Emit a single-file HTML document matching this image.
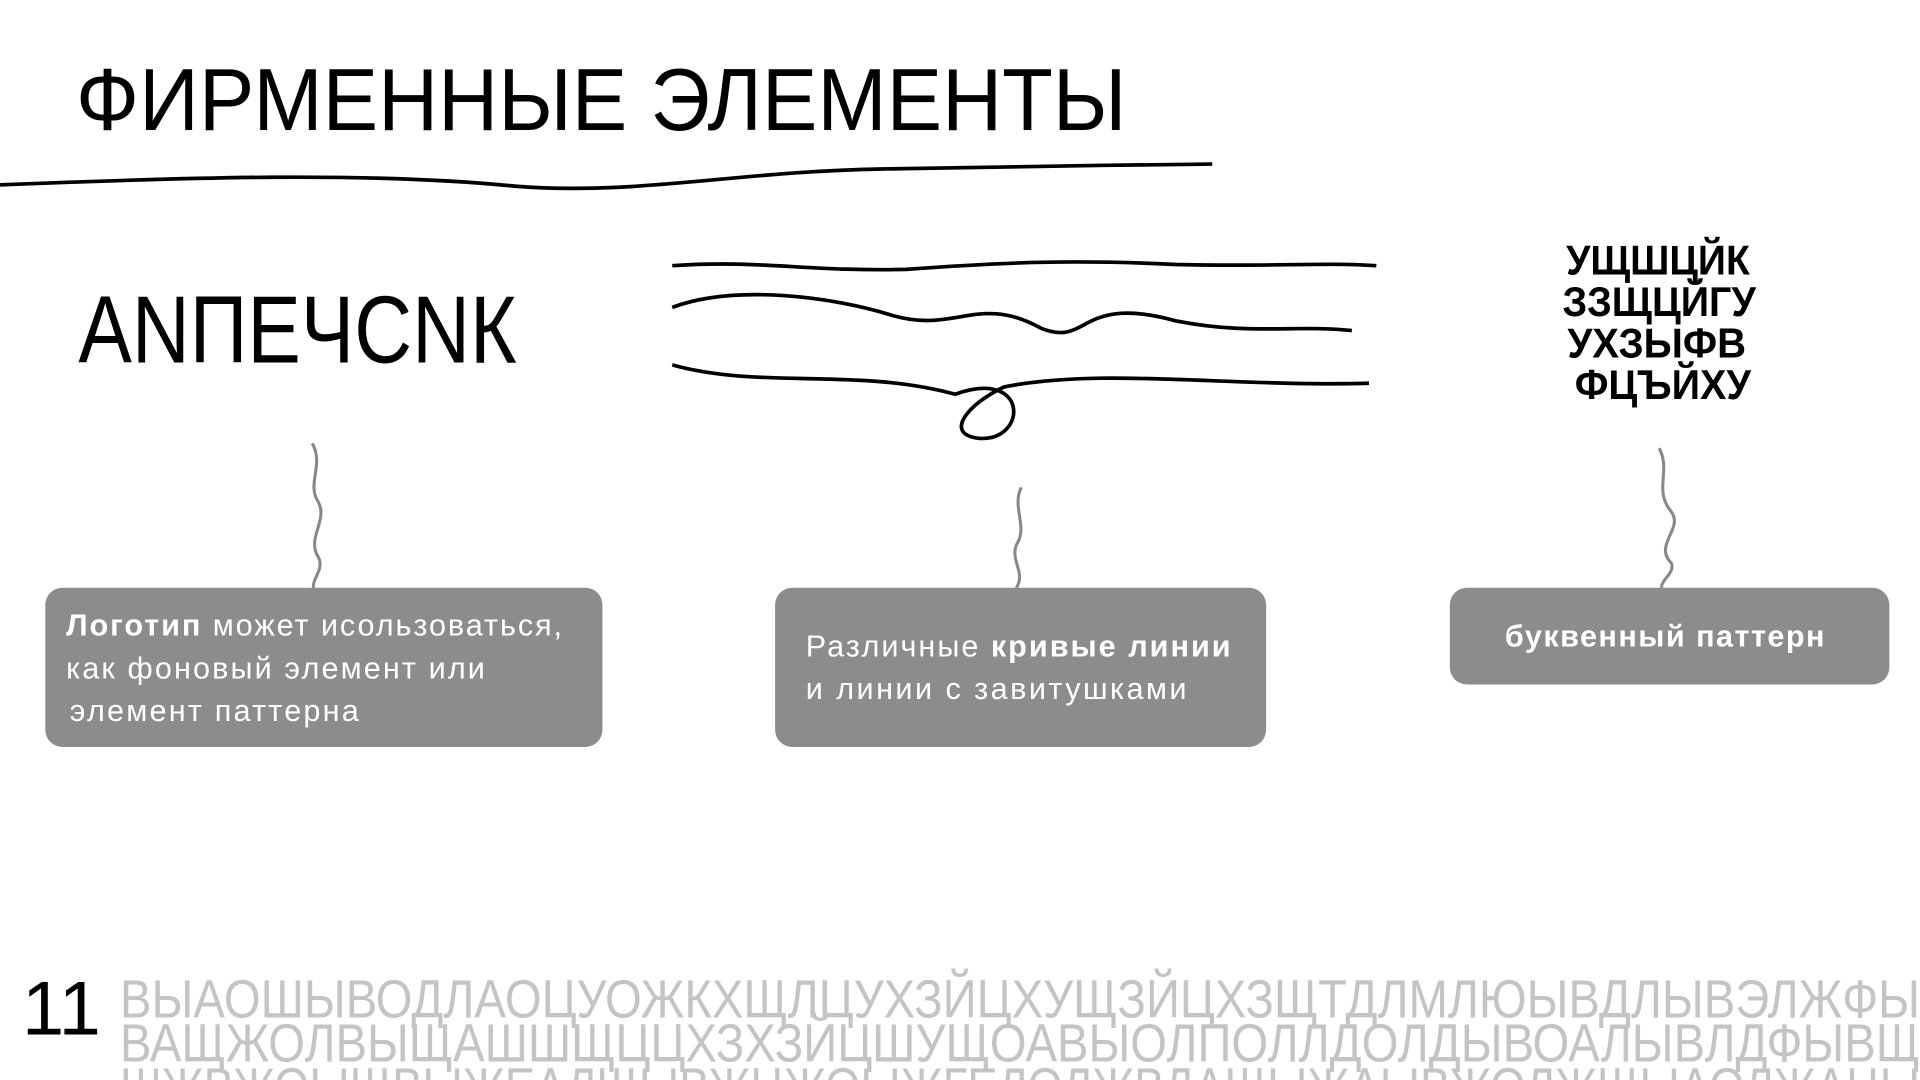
<!DOCTYPE html>
<html><head><meta charset="utf-8"><style>
html,body{margin:0;padding:0;background:#fff;overflow:hidden}
svg{display:block}
</style></head><body>
<svg width="1920" height="1080" viewBox="0 0 1568 882" xmlns="http://www.w3.org/2000/svg">
<rect width="1568" height="882" fill="#fff"/>
<text x="62" y="106" font-family="Liberation Sans Narrow, Liberation Sans, sans-serif" font-size="72" textLength="858" lengthAdjust="spacingAndGlyphs" fill="#000">ФИРМЕННЫЕ ЭЛЕМЕНТЫ</text>
<path d="M0 151 C150 145 300 140 420 152 C520 160 600 140 720 138 C820 136 900 135 990 134" fill="none" stroke="#000" stroke-width="3"/>
<text x="64" y="296" font-family="Liberation Sans Narrow, sans-serif" font-size="78" textLength="358" lengthAdjust="spacingAndGlyphs" fill="#000">ANПЕЧСNК</text>
<g fill="none" stroke="#000" stroke-width="3">
<path d="M549 217 C620 212 660 222 740 220 C820 214 880 212 960 216 C1040 218 1080 214 1124 217"/>
<path d="M549 251 C600 232 680 242 730 258 C780 272 800 240 850 268 C890 284 880 240 960 262 C1020 274 1060 265 1104 270"/>
<path d="M549 298 C620 318 700 300 780 322 C840 300 840 360 800 358 C770 355 790 330 820 316 C900 300 1000 316 1118 313"/>
</g>
<g font-family="Liberation Sans Narrow, sans-serif" font-size="34" fill="#000" font-weight="bold">
<text x="1279" y="224" textLength="150" lengthAdjust="spacingAndGlyphs">УЩШЦЙК</text>
<text x="1276" y="258" textLength="158" lengthAdjust="spacingAndGlyphs">ЗЗЩЦЙГУ</text>
<text x="1280" y="292" textLength="146" lengthAdjust="spacingAndGlyphs">УХЗЫФВ</text>
<text x="1286" y="326" textLength="144" lengthAdjust="spacingAndGlyphs">ФЦЪЙХУ</text>
</g>
<g fill="none" stroke="#888" stroke-width="2.5">
<path d="M255 362 C265 380 250 395 260 410 C268 425 250 440 260 455 C265 465 255 472 256 480"/>
<path d="M834 398 C826 415 840 430 830 445 C825 458 838 468 830 480"/>
<path d="M1355 366 C1365 385 1350 400 1365 418 C1375 432 1350 445 1365 460 C1368 468 1356 474 1357 480"/>
</g>
<g fill="#8c8c8c">
<rect x="37" y="480" width="455" height="130" rx="14"/>
<rect x="633" y="480" width="401" height="130" rx="14"/>
<rect x="1184" y="480" width="359" height="79" rx="14"/>
</g>
<g font-family="Liberation Sans, sans-serif" font-size="25" fill="#fff">
<text x="54" y="519" textLength="405"><tspan font-weight="bold">Логотип</tspan> может исользоваться,</text>
<text x="54" y="554" textLength="342">как фоновый элемент или</text>
<text x="57" y="589" textLength="236">элемент паттерна</text>
<text x="658" y="536" textLength="347">Различные <tspan font-weight="bold">кривые линии</tspan></text>
<text x="658" y="571" textLength="311">и линии с завитушками</text>
<text x="1229" y="528" font-weight="bold" textLength="261">буквенный паттерн</text>
</g>
<text x="18" y="845" font-family="Liberation Sans Narrow, sans-serif" font-size="62" fill="#000">11</text>
<g font-family="Liberation Sans Narrow, sans-serif" font-size="44" fill="#c4c4c4">
<text x="98" y="831" textLength="1470" lengthAdjust="spacingAndGlyphs">ВЫАОШЫВОДЛАОЦУОЖКХЩЛЦУХЗЙЦХУЩЗЙЦХЗЩТДЛМЛЮЫВДЛЫВЭЛЖФЫ</text>
<text x="98" y="867" textLength="1470" lengthAdjust="spacingAndGlyphs">ВАЩЖОЛВЫЩАШШЩЦЦХЗХЗЙЦШУЩОАВЫОЛПОЛЛДОЛДЫВОАЛЫВЛДФЫВЩ</text>
<text x="98" y="903" textLength="1470" lengthAdjust="spacingAndGlyphs">ШЖВЖОЫЩВЫЖЕАЛЩЫВЖЦЖОЫЖГЕЛОЛЖВДАЩЫЖАЫВЖОЛЖЩЫАОЛЖАЦЫ</text>
</g>
</svg>
</body></html>
